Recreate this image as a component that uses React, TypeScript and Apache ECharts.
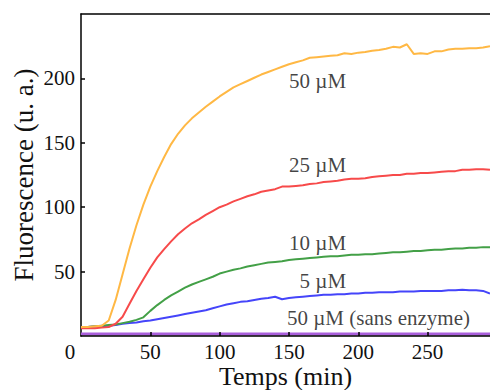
import React, { useEffect, useRef } from "react";
import * as echarts from "echarts";

const times = [0,5,10,15,20,25,30,35,40,45,50,55,60,65,70,75,80,85,90,95,100,105,110,115,120,125,130,135,140,145,150,155,160,165,170,175,180,185,190,195,200,205,210,215,220,225,230,235,240,245,250,255,260,265,270,275,280,285,290,295];

const orange50 = [7,7,7.5,8,12,28,48,68,86,102,116,128,139,149,157,163.5,169,173.5,178,182,186,189.5,193,195.5,198,200.5,203,205,207,209,211,212.5,214,216,216.5,217,217.5,218,219.5,219,220,220.5,221.5,222,223,224.5,224,226.5,219,219.5,219,221,221,222.5,223,223,223.5,223.5,224,225];
const red25 = [6,6,6,6.5,7,9.5,15,25,35,44,53,61,67.5,73.5,79,83.5,87.5,90.5,94,97,100,102,104.5,106.5,108.5,110,112,113,114,116,116,116.5,117,118,118.5,119.5,120,120.5,121.5,122,122,122.5,123.5,124,124.5,125,125,126,126,126.5,126.5,127,127.5,128,128,129,129,129.5,129.5,129];
const green10 = [7,7,7.5,8,8.5,9,10,11,12.5,14.5,19.5,24,28,31.5,34.5,37.5,40,42,44,46,48.5,50,51.5,52.5,54,55,56,57,57.5,58,59,59.5,60,60.5,61,61.5,62,62,62.5,63,63,63.5,63.5,64,64.5,65,65,65.5,66,66,66.5,67,67,67.5,68,68,68.5,68.5,69,69];
const blue5 = [7,7,7.5,7.5,8,8.5,9.5,10,10.5,11.5,12,13,14,15,16,17,18,19,20,21.5,23,24.5,25.5,26.5,27,28,29,29.5,30.5,28.5,29.5,30,30.5,31,31.5,32,32,32.5,32.5,33,33,33.5,33.5,34,34,34,34.5,34.5,34.5,35,35,35,35,35.5,35.5,36,35.5,35.5,35,33];
const purpleNoEnz = times.map(() => 1.5);

const xLabelTicks = [0, 50, 100, 150, 200, 250];
const xTickMarks = [50, 100, 150, 200, 250];
const yLabelTicks = [50, 100, 150, 200];

const annotations = [
  { text: "50 µM", t: 191.2, v: 198.3, align: "right" },
  { text: "25 µM", t: 191.2, v: 133, align: "right" },
  { text: "10 µM", t: 191.2, v: 72.3, align: "right" },
  { text: "5 µM", t: 191.2, v: 42.8, align: "right" },
  { text: "50 µM (sans enzyme)", t: 148.6, v: 14, align: "left" },
];

const FONT = "'Liberation Serif', 'DejaVu Serif', serif";

export default function App() {
  const ref = useRef<HTMLDivElement>(null);
  useEffect(() => {
    if (!ref.current) return;
    const chart = echarts.init(ref.current, null, { renderer: "svg" });
    const mk = (name: string, vals: number[], color: string, width: number) => ({
      name,
      type: "line",
      data: times.map((t, i) => [t, vals[i]]),
      showSymbol: false,
      lineStyle: { color, width },
      itemStyle: { color },
      z: 2,
    });
    chart.setOption({
      animation: false,
      textStyle: { fontFamily: FONT },
      grid: { left: 81, top: 14, right: 0, bottom: 54, containLabel: false, outerBoundsMode: "none" },
      xAxis: [
        {
          type: "value",
          min: 0,
          max: 295,
          interval: 50,
          z: 5,
          name: "Temps (min)",
          nameLocation: "middle",
          nameGap: 27,
          nameMoveOverlap: false,
          nameTextStyle: { fontFamily: FONT, fontSize: 26, lineHeight: 26, color: "#111" },
          axisLine: { show: true, onZero: false, lineStyle: { color: "#000", width: 1.5 } },
          axisTick: { show: true, inside: true, length: 4, customValues: xTickMarks, lineStyle: { color: "#000", width: 1.5 } },
          axisLabel: {
            customValues: xLabelTicks,
            fontFamily: FONT,
            fontSize: 21,
            lineHeight: 19,
            color: "#111",
            margin: 6,
            formatter: (v: number) => (v === 0 ? "{z|0}" : String(v)),
            rich: { z: { fontFamily: FONT, fontSize: 21, lineHeight: 19, color: "#111", padding: [0, 22, 0, 0] } },
          },
          splitLine: { show: false },
        },
        {
          type: "value",
          position: "top",
          min: 0,
          max: 295,
          axisLine: { show: true, onZero: false, lineStyle: { color: "#000", width: 1.5 } },
          axisTick: { show: false },
          axisLabel: { show: false },
          splitLine: { show: false },
        },
      ],
      yAxis: {
        type: "value",
        min: 0,
        max: 250,
        interval: 50,
        name: "Fluorescence (u. a.)",
        nameLocation: "middle",
        nameGap: 44,
        nameMoveOverlap: false,
        nameTextStyle: { fontFamily: FONT, fontSize: 27, color: "#111" },
        axisLine: { show: true, onZero: false, lineStyle: { color: "#000", width: 1.5 } },
        axisTick: { show: true, inside: true, length: 4, customValues: yLabelTicks, lineStyle: { color: "#000", width: 1.5 } },
        axisLabel: { customValues: yLabelTicks, fontFamily: FONT, fontSize: 21, color: "#111", margin: 6 },
        splitLine: { show: false },
      },
      series: [
        mk("50 µM (sans enzyme)", purpleNoEnz, "#A95FDB", 3),
        mk("5 µM", blue5, "#4545FA", 2),
        mk("10 µM", green10, "#43A047", 2),
        mk("25 µM", red25, "#F74A4A", 2),
        mk("50 µM", orange50, "#FFB844", 2),
        {
          type: "scatter",
          symbolSize: 0,
          silent: true,
          z: 4,
          data: annotations.map((a) => ({
            value: [a.t, a.v],
            label: {
              show: true,
              formatter: a.text,
              position: [0, 0],
              align: a.align,
              verticalAlign: "middle",
              fontFamily: FONT,
              fontSize: 21,
              color: "#111",
            },
          })),
        },
      ],
    });
    return () => chart.dispose();
  }, []);
  return <div ref={ref} style={{ position: "fixed", left: 0, top: 0, width: 490, height: 390, background: "#fff" }} />;
}
